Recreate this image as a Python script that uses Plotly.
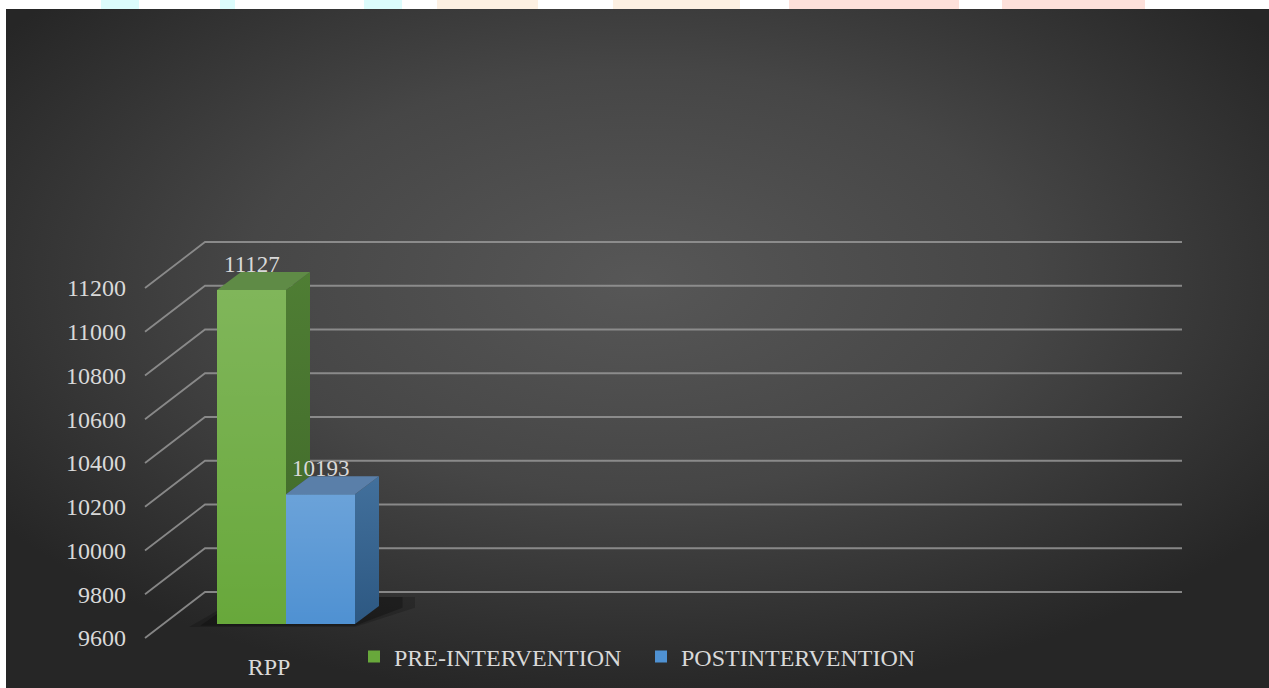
import base64
import plotly.graph_objects as go

# ---------------- data ----------------
categories = ["RPP"]
series_names = ["PRE-INTERVENTION", "POSTINTERVENTION"]
pre_values = [11127]
post_values = [10193]
tick_values = [9600, 9800, 10000, 10200, 10400, 10600, 10800, 11000, 11200]
tick_labels = ["9600", "9800", "10000", "10200", "10400", "10600", "10800", "11000", "11200"]

# ---------------- style / geometry ----------------
W, H = 1269, 688
FONT = "Liberation Serif"
TXT = "#d9d9d9"
S = 350 / 1600.0        # px per value unit
BASE_PX = 624           # pixel row of axis minimum in the bar plane
X0_PX = 286             # pixel column of category centre
XU = 138.0              # px per category unit
Y_MIN = tick_values[0]

y_top = Y_MIN + BASE_PX / S
y_bot = Y_MIN - (H - BASE_PX) / S
x_lo = -X0_PX / XU
x_hi = (W - X0_PX) / XU


def ux(px):
    return px / XU


def uy(px):
    return px / S


DDX, DDY = ux(24), uy(18)          # bar depth
FRONT_DX, FRONT_DY = ux(-17), uy(-14)
BACK_DY = uy(32)
GX_FRONT, GX_BACK, GX_END = ux(145 - X0_PX), ux(205 - X0_PX), ux(1182 - X0_PX)

colors = {
    "front": ["#68a83b", "#4f91d2"],
    "side_top": ["#4f7e34", "#42709c"],
    "side_bot": ["#3e6628", "#2d5882"],
    "top": ["#5f8b46", "#5a7fa9"],
}
BAR_W = 0.5
offsets = [-0.5, 0.0]
series_values = [pre_values, post_values]

fig = go.Figure()

# background gradient image
svg = (
    '<svg xmlns="http://www.w3.org/2000/svg" width="1263" height="679" viewBox="0 0 1263 679" preserveAspectRatio="none">'
    '<defs><radialGradient id="g" cx="0.5" cy="0.4" r="0.62">'
    '<stop offset="0" stop-color="#575757"/><stop offset="0.5" stop-color="#464646"/>'
    '<stop offset="1" stop-color="#262626"/></radialGradient></defs>'
    '<rect width="1263" height="679" fill="url(#g)"/></svg>'
)
src = "data:image/svg+xml;base64," + base64.b64encode(svg.encode()).decode()
fig.add_layout_image(dict(source=src, xref="paper", yref="paper", x=6 / W, y=1 - 9 / H,
                          sizex=(W - 6) / W, sizey=(H - 9) / H, xanchor="left", yanchor="top",
                          sizing="stretch", layer="below"))

# faint watermark strip at the top
strip = [(101, 139, "#dcfcfc"), (220, 235, "#dcfcfc"), (364, 402, "#dcfcfc"),
         (437, 538, "#fdf0e2"), (613, 740, "#fdf0e2"), (789, 959, "#fde0da"), (1002, 1145, "#fde0da")]
for a, b, c in strip:
    fig.add_shape(type="rect", xref="paper", yref="paper", x0=a / W, x1=b / W, y0=1 - 9 / H, y1=1,
                  fillcolor=c, line_width=0, layer="below")

# gridlines (3D wall)
for v in tick_values:
    path = (f"M {GX_FRONT},{v + FRONT_DY} L {GX_BACK},{v + BACK_DY} L {GX_END},{v + BACK_DY}")
    fig.add_shape(type="path", path=path, xref="x", yref="y",
                  line=dict(color="rgba(150,150,150,0.85)", width=1.8), layer="below")

# soft floor shadow (two layers)
xl0 = offsets[0]
xr1 = offsets[-1] + BAR_W
for grow, alpha in [(1.0, 0.18), (0.6, 0.25)]:
    shadow = (f"M {xl0 - ux(28) * grow},{Y_MIN - uy(3) * grow} L {xr1},{Y_MIN - uy(3) * grow} "
              f"L {xr1 + DDX * (1.2 + 1.3 * grow)},{Y_MIN + DDY * 0.9} "
              f"L {xr1 + DDX * (1.2 + 1.3 * grow)},{Y_MIN + DDY * 1.5} L {xl0 + DDX},{Y_MIN + DDY * 1.5} Z")
    fig.add_shape(type="path", path=shadow, xref="x", yref="y", fillcolor=f"rgba(0,0,0,{alpha})",
                  line_width=0, layer="below")

# front faces
for i, (name, vals) in enumerate(zip(series_names, series_values)):
    fig.add_trace(go.Bar(
        x=[0], y=[vals[0] - Y_MIN], base=[Y_MIN], width=[BAR_W], offset=offsets[i],
        name=name, marker=dict(color=colors["front"][i], line_width=0),
        hovertemplate=f"{name}: {vals[0]}<extra></extra>",
    ))

# front-face sheen, top and side faces
for i, vals in enumerate(series_values):
    v = vals[0]
    xl = offsets[i]
    xr = xl + BAR_W
    fig.add_trace(go.Scatter(
        x=[xl, xr, xr, xl, xl], y=[Y_MIN, Y_MIN, v, v, Y_MIN],
        fill="toself", line=dict(width=0), mode="lines",
        fillgradient=dict(type="vertical", start=Y_MIN, stop=v,
                          colorscale=[[0, "rgba(255,255,255,0)"], [1, "rgba(255,255,255,0.16)"]]),
        showlegend=False, hoverinfo="skip"))
    bottom = Y_MIN
    if i + 1 < len(series_values):
        bottom = max(Y_MIN, series_values[i + 1][0])
    if v > bottom:
        fig.add_trace(go.Scatter(
            x=[xr, xr, xr + DDX, xr + DDX, xr], y=[bottom, v, v + DDY, bottom + DDY, bottom],
            fill="toself", line=dict(width=0), mode="lines",
            fillgradient=dict(type="vertical", start=Y_MIN, stop=v + DDY,
                              colorscale=[[0, colors["side_bot"][i]], [1, colors["side_top"][i]]]),
            showlegend=False, hoverinfo="skip"))
    fig.add_trace(go.Scatter(
        x=[xl, xr, xr + DDX, xl + DDX, xl], y=[v, v, v + DDY, v + DDY, v],
        fill="toself", fillcolor=colors["top"][i], line=dict(width=0), mode="lines",
        showlegend=False, hoverinfo="skip"))
    fig.add_annotation(x=xl + BAR_W / 2, y=v + DDY, text=str(v), showarrow=False,
                       yanchor="bottom", yshift=-7, font=dict(family=FONT, size=23, color=TXT))

fig.update_layout(
    width=W, height=H, autosize=False,
    margin=dict(l=0, r=0, t=0, b=0),
    paper_bgcolor="white", plot_bgcolor="rgba(0,0,0,0)",
    barmode="overlay",
    showlegend=True,
    legend=dict(orientation="h", x=354 / W, xanchor="left", y=(H - 657) / H, yanchor="middle",
                bgcolor="rgba(0,0,0,0)", font=dict(family=FONT, size=24, color=TXT),
                entrywidth=242, entrywidthmode="pixels", traceorder="normal"),
    xaxis=dict(range=[x_lo, x_hi], tickvals=[0 + FRONT_DX], ticktext=categories,
               anchor="free", position=(H - 650) / H, showgrid=False, zeroline=False,
               showline=False, ticks="", tickfont=dict(family=FONT, size=24, color=TXT),
               fixedrange=True),
    yaxis=dict(range=[y_bot, y_top], showgrid=False, zeroline=False, showline=False,
               showticklabels=False, ticks="", fixedrange=True),
    yaxis2=dict(range=[y_bot - FRONT_DY, y_top - FRONT_DY], overlaying="y", anchor="free",
                position=126 / W, side="left", tickvals=tick_values, ticktext=tick_labels,
                showgrid=False, zeroline=False, showline=False, ticks="",
                tickfont=dict(family=FONT, size=24, color=TXT), fixedrange=True),
    font=dict(family=FONT, color=TXT),
)
# invisible trace so yaxis2 is drawn
fig.add_trace(go.Scatter(x=[None], y=[None], yaxis="y2", showlegend=False, hoverinfo="skip"))

fig.write_html("out.html", config={"displayModeBar": False},
               post_script="document.body.style.margin='0';")
